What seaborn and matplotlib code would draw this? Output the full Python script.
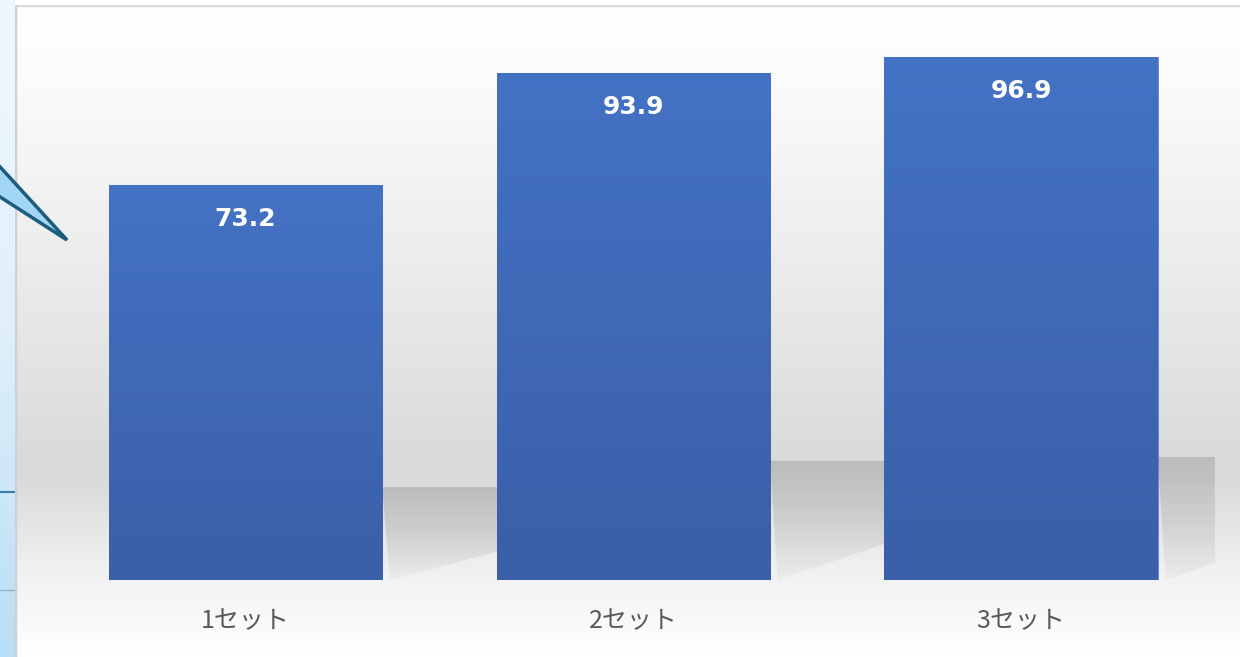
import numpy as np
import pandas as pd
import matplotlib
matplotlib.use("Agg")
import matplotlib.pyplot as plt
import seaborn as sns
from matplotlib.patches import Polygon
from matplotlib.colors import LinearSegmentedColormap

categories = ["1セット", "2セット", "3セット"]
values = [73.2, 93.9, 96.9]
labels = ["73.2", "93.9", "96.9"]

sns.set_theme(style="white")
plt.rcParams['font.family'] = ['Noto Sans CJK JP', 'DejaVu Sans']

W, H = 1240, 657
fig = plt.figure(figsize=(W / 100, H / 100), dpi=100)
fig.patch.set_facecolor("white")

# left slide strip (light blue gradient)
strip = fig.add_axes([0, 0, 15 / W, 1])
strip.set_axis_off()
grad = np.linspace(0, 1, 256).reshape(-1, 1)
cm_strip = LinearSegmentedColormap.from_list("s", ["#f0f8fe", "#dff0fb", "#b9def5"])
strip.imshow(grad, aspect="auto", cmap=cm_strip, extent=[0, 1, 0, 1], origin="upper")
strip.set_xlim(0, 1); strip.set_ylim(0, 1)
strip.plot([0, 1], [1 - 492 / H, 1 - 492 / H], color="#3c7fa6", lw=1.5)
strip.plot([0, 1], [1 - 590 / H, 1 - 590 / H], color="#8fb7cf", lw=1.0)

# chart area background (vertical grey gradient)
bg = fig.add_axes([15 / W, 0, 1 - 15 / W, 1 - 5 / H])
bg.set_axis_off()
cm_bg = LinearSegmentedColormap.from_list(
    "bg", [(0.0, "#ffffff"), (0.12, "#fbfbfb"), (0.45, "#e9e9e9"),
           (0.72, "#d9d9d9"), (0.88, "#f2f2f2"), (1.0, "#ffffff")])
bg.imshow(grad, aspect="auto", cmap=cm_bg, extent=[0, 1, 0, 1], origin="upper")
bg.set_xlim(0, 1); bg.set_ylim(0, 1)
bg.plot([0, 0], [0, 1], color="#d0d0d0", lw=2.5)
bg.plot([0, 1], [1, 1], color="#d8d8d8", lw=2.5)

# plot area
ax = fig.add_axes([51.5 / W, (H - 580) / H, (1215 - 51.5) / W, (580 - 20) / H])
ax.patch.set_alpha(0)
df = pd.DataFrame({"cat": categories, "val": values})
sns.barplot(data=df, x="cat", y="val", color="#4070c0", width=0.705,
            saturation=1, ax=ax, zorder=3)

# bar gradients and shadows derived from the bar geometry
cm_bar = LinearSegmentedColormap.from_list("bar", ["#4472c4", "#3b5fa8"])
cm_sh = LinearSegmentedColormap.from_list("sh", ["#b8b8b8", "#cdcdcd", "#ececec"])
for p in list(ax.patches):
    x0, w, h = p.get_x(), p.get_width(), p.get_height()
    im = ax.imshow(grad, aspect="auto", cmap=cm_bar, extent=[x0, x0 + w, 0, h],
                   origin="upper", zorder=3.5)
    im.set_clip_path(p)
    p.set_edgecolor("#5a86d0")
    p.set_linewidth(0.6)
    sh_h = 0.235 * h
    sh_w = 0.31
    poly = Polygon([(x0 + w, sh_h), (x0 + w + sh_w, sh_h),
                    (x0 + w + sh_w, sh_h * 0.32), (x0 + w + 0.02, 0)],
                   closed=True, facecolor="none", edgecolor="none")
    ax.add_patch(poly)
    shim = ax.imshow(grad, aspect="auto", cmap=cm_sh,
                     extent=[x0 + w, x0 + w + sh_w, 0, sh_h], origin="upper",
                     zorder=1, alpha=0.9)
    shim.set_clip_path(poly)
ax.set_xlim(-0.5, 2.5)
ax.set_ylim(0, 560 / 5.4)

for p, lab in zip(ax.patches[:3], labels):
    ax.annotate(lab, (p.get_x() + p.get_width() / 2, p.get_height()),
                xytext=(0, -24.5), textcoords="offset points",
                ha="center", va="center", color="white", fontsize=18,
                fontweight="bold", family=["DejaVu Sans"], zorder=5)

ax.set_xlabel("")
ax.set_ylabel("")
ax.set_yticks([])
ax.tick_params(axis="x", length=0, pad=20, labelsize=18, labelcolor="#595959")
for s in ax.spines.values():
    s.set_visible(False)

# callout pointer from slide
fig.patches.append(Polygon([(-20 / W, 1 - 145 / H), (67 / W, 1 - 240 / H),
                            (-20 / W, 1 - 184 / H)],
                           closed=True, transform=fig.transFigure,
                           facecolor="#a3d5f5", edgecolor="#1b5d7e", lw=2.5,
                           joinstyle="miter", zorder=10))

fig.savefig("out.png", dpi=100)
